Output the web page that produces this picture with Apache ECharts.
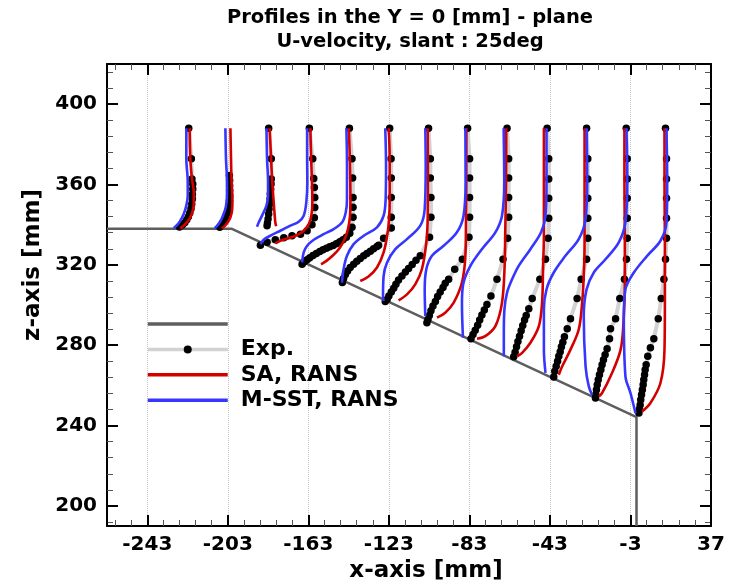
<!DOCTYPE html>
<html><head><meta charset="utf-8">
<script src="https://cdn.jsdelivr.net/npm/echarts@6/dist/echarts.min.js"></script>
<style>html,body{margin:0;padding:0;background:#fff}#chart{width:729px;height:584px}</style>
</head><body><div id="chart"></div>
<script>
const titleLines = ['Profiles in the Y = 0 [mm] - plane', 'U-velocity, slant : 25deg'];
const xAxisName = 'x-axis [mm]';
const zAxisName = 'z-axis [mm]';
const xRange = [-263, 37];
const zRange = [190, 420];
const tickStep = 40;
const xTickLabelShift = -3;   // x tick labels: -243, -203, ..., 37
const legendNames = [' ', 'Exp.', 'SA, RANS', 'M-SST, RANS'];

// body surface (roof, 25deg slant, base)
const wallX = [-263, -201.2, 0, 0];
const wallZ = [338, 338, 244.2, 190];

// Experimental profiles [x, z] in mm
const expProfiles = [
 [[-222.4,388],[-221.1,372.8],[-220.8,362.8],[-220.4,360.3],[-220.4,357.8],[-220.6,355.2],[-220.6,352.8],[-220.9,350.3],[-221.3,348],[-221.9,345.8],[-222.6,344],[-223.4,342.4],[-224.4,341],[-225.6,339.8],[-227.0,338.8]],
 [[-202.2,364.5],[-202.1,362],[-202.1,359.5],[-202.1,357],[-202.1,354.5],[-202.2,352],[-202.4,349.8],[-202.7,347.8],[-203.2,345.8],[-203.9,344],[-204.5,342.5],[-205.4,341.2],[-206.2,339.8],[-207.0,338.7]],
 [[-182.7,388],[-181.4,372.8],[-181.4,362.8],[-181.5,360.3],[-181.7,357.8],[-181.9,355.3],[-182.0,352.8],[-182.2,350.3],[-182.5,347.8],[-182.7,345.3],[-183.0,342.8],[-183.3,340.8],[-183.5,339.5]],
 [[-162.5,388],[-160.8,372.8],[-160.3,363],[-160.0,358.5],[-159.8,353.5],[-159.8,348.5],[-160.0,343.5],[-161.2,340],[-163.6,337],[-166.9,335.3],[-171.1,334.5],[-175.2,333.5],[-179.4,332.5],[-183.5,331.2],[-186.8,329.8]],
 [[-142.6,388],[-141.3,372.8],[-141.0,363.2],[-140.8,353.5],[-140.8,348.7],[-140.8,343.7],[-141.3,338.7],[-142.4,335.8],[-144.1,333.7],[-145.8,332.5],[-147.4,331.5],[-149.1,330.5],[-150.7,329.7],[-152.4,329],[-154.0,328.3],[-155.7,327.5],[-157.3,326.7],[-159.0,325.7],[-160.7,324.7],[-162.3,323.5],[-163.6,322.5],[-165.0,321.5],[-166.1,320.3]],
 [[-122.6,388],[-121.9,372.8],[-121.8,363.2],[-121.8,353.5],[-121.8,343.7],[-121.8,338.3],[-125.6,333.2],[-128.1,329.8],[-128.9,329.2],[-130.6,328],[-132.2,326.8],[-133.9,325.7],[-135.5,324.5],[-137.2,323.2],[-138.9,321.8],[-140.5,320.3],[-142.2,318.7],[-143.5,317],[-144.6,315.2],[-145.5,313.2],[-146.1,311.2]],
 [[-103.3,388],[-102.4,372.8],[-102.4,363.2],[-102.1,353.5],[-102.1,343.7],[-102.8,333.7],[-107.4,324.5],[-109.5,322.3],[-111.4,320.2],[-113.2,318.2],[-114.8,316.5],[-116.5,314.5],[-118.2,312.5],[-119.5,310.3],[-120.6,308.3],[-121.8,306.5],[-123.0,304.5],[-123.9,302.8],[-124.8,301.8]],
 [[-83.9,388],[-82.9,372.8],[-82.9,363.2],[-82.9,353.5],[-82.9,343.7],[-83.2,333.7],[-86.5,322.8],[-90.3,317.8],[-93.3,312.8],[-95.0,310.8],[-96.1,308.7],[-97.5,306.5],[-98.8,304.2],[-99.9,301.8],[-101.1,299.5],[-102.1,297.2],[-102.9,294.8],[-103.6,292.8],[-104.1,291.2]],
 [[-64.3,388],[-63.5,372.8],[-63.5,363.2],[-63.5,353.5],[-63.5,343.7],[-64.0,333.2],[-66.3,322.8],[-69.3,312.8],[-72.3,304.5],[-74.3,300.3],[-75.6,297.5],[-76.8,295],[-77.9,292.5],[-78.9,290],[-80.1,287.5],[-81.2,285.3],[-82.2,283.2]],
 [[-44.4,388],[-43.6,372.8],[-43.6,362.8],[-43.6,353.2],[-43.6,343.2],[-43.9,333.2],[-45.2,322.8],[-48.0,312.8],[-51.8,303.2],[-53.5,298.2],[-54.8,294.8],[-55.6,292.5],[-56.5,289.8],[-57.3,287.2],[-58.1,284.5],[-58.9,281.8],[-59.6,279.2],[-60.3,276.5],[-61.0,274.2]],
 [[-24.8,388],[-24.2,372.8],[-24.2,362.8],[-24.2,353.2],[-24.2,343.2],[-24.2,333.2],[-24.8,322.8],[-27.5,312.8],[-29.5,303.2],[-32.8,293.2],[-34.4,288.2],[-35.8,284.2],[-36.6,281.5],[-37.3,279.2],[-37.9,276.8],[-38.6,274.5],[-39.2,272],[-39.9,269.5],[-40.6,267],[-41.1,264.2]],
 [[-5.1,388],[-4.6,372.8],[-4.6,362.8],[-4.6,353.2],[-4.6,343.2],[-4.6,333.2],[-5.0,322.8],[-6.0,312.8],[-8.3,303.2],[-10.4,293.2],[-12.9,288.2],[-13.4,283.2],[-14.6,278.2],[-15.6,275.3],[-16.4,272.8],[-17.1,270.3],[-17.7,267.8],[-18.4,265.3],[-19.0,262.8],[-19.5,260.3],[-19.9,257.8],[-20.2,255.3],[-20.4,253.7]],
 [[14.4,388],[14.9,372.8],[14.9,362.8],[14.9,353.2],[14.9,343.2],[14.9,333.2],[14.4,322.8],[13.6,312.8],[12.3,303.2],[10.8,293.2],[8.6,283.2],[6.9,278.7],[5.6,274.5],[4.8,270.3],[4.3,267.8],[4.0,265.3],[3.6,262.8],[3.3,260.3],[2.9,257.8],[2.5,255.3],[2.1,252.8],[1.8,250.3],[1.5,248.2],[1.2,246.2]]
];

// SA, RANS profiles
const saProfiles = [
 [[-221.9,388],[-221.6,372.8],[-220.8,362.8],[-219.9,356.2],[-219.9,351.2],[-220.4,347],[-221.6,343.7],[-223.3,341.2],[-225.2,339.2],[-226.6,338.2]],
 [[-201.7,388],[-201.4,372.8],[-201.1,361.2],[-200.7,352.8],[-200.9,347],[-201.7,343.7],[-203.0,341.2],[-204.7,339.2],[-205.9,338.3]],
 [[-182.2,388],[-181.5,372.8],[-180.9,361.2],[-180.2,351.2],[-179.7,344.5],[-179.4,341.2],[-179.0,339.2]],
 [[-162.0,388],[-161.6,372.8],[-161.2,361.2],[-161.0,351.2],[-161.5,344.5],[-162.8,340.3],[-165.3,337],[-168.6,334.8],[-172.7,333.3],[-176.9,332],[-179.4,330.7]],
 [[-142.9,388],[-142.4,372.8],[-142.1,352.8],[-142.3,344.5],[-143.3,337.8],[-145.1,332.5],[-147.6,328.2],[-150.7,324.8],[-154.0,322],[-156.7,320.3]],
 [[-123.1,388],[-122.6,372.8],[-122.6,352.8],[-122.8,344.5],[-123.6,336.2],[-125.6,326.2],[-128.9,318.7],[-133.1,314.2],[-137.2,312]],
 [[-103.7,388],[-103.6,369.5],[-103.7,344.5],[-104.4,331.2],[-106.6,317.8],[-109.9,310.3],[-114.0,305.3],[-118.2,302.3]],
 [[-84.5,388],[-84.5,361.2],[-84.7,341.2],[-85.0,324.5],[-86.7,311.2],[-90.8,301.2],[-95.0,296.2],[-99.1,293.7]],
 [[-64.7,388],[-64.8,361.2],[-65.2,336.2],[-65.5,319.5],[-66.8,301.2],[-70.1,289.5],[-75.1,284.5],[-79.2,283.2]],
 [[-46.0,388],[-46.0,361.2],[-46.0,334.5],[-46.4,319.5],[-46.9,301.2],[-48.5,289.5],[-52.7,281.2],[-56.8,276.2],[-59.3,274.5]],
 [[-25.8,388],[-25.8,361.2],[-25.8,331.2],[-26.2,314.5],[-27.0,301.2],[-28.7,287.8],[-32.8,277.8],[-36.9,269.5],[-38.6,265.3]],
 [[-6.0,388],[-6.0,361.2],[-5.8,331.2],[-5.8,311.2],[-6.3,294.5],[-7.9,277.8],[-12.9,264.5],[-17.1,256.2],[-18.7,254.5]],
 [[13.9,388],[13.9,361.2],[14.1,331.2],[14.1,302.8],[13.9,277.8],[11.9,261.2],[6.9,251.2],[2.8,247]]
];

// M-SST, RANS profiles
const sstProfiles = [
 [[-223.6,388],[-223.6,372.8],[-222.9,361.2],[-222.9,354.5],[-223.6,349.5],[-224.9,345.3],[-226.9,341.5],[-229.0,339],[-229.9,338.3]],
 [[-204.2,388],[-203.9,372.8],[-203.4,361.2],[-203.4,354.5],[-204.0,348.7],[-205.4,344.5],[-207.0,341.2],[-208.7,339],[-209.5,338.3]],
 [[-183.8,388],[-183.5,372.8],[-183.0,361.2],[-183.0,354.5],[-183.8,349.5],[-186.0,344.5],[-187.6,341.2],[-188.5,339]],
 [[-163.6,388],[-163.6,372.8],[-163.5,361.2],[-164.0,351.2],[-165.3,344.5],[-167.8,341.5],[-171.9,339.5],[-176.9,337],[-181.9,334.5],[-185.2,332.5],[-186.8,330.3]],
 [[-144.1,388],[-143.8,369.5],[-143.8,352.8],[-144.4,346.2],[-146.2,341.2],[-150.4,337.8],[-155.4,335.3],[-160.3,332.5],[-163.6,329.5],[-165.3,326.2],[-166.1,321.2]],
 [[-124.8,388],[-124.4,369.5],[-124.6,352.8],[-125.6,344.5],[-128.9,338.7],[-135.5,334.5],[-140.5,330.3],[-143.8,324.5],[-145.5,317.8],[-146.3,311.2]],
 [[-104.9,388],[-104.7,369.5],[-105.2,347.8],[-107.4,339.5],[-114.0,332.8],[-119.8,327.8],[-123.9,321.2],[-125.6,314.5],[-125.9,304.5],[-125.6,302]],
 [[-85.0,388],[-84.9,361.2],[-85.9,344.5],[-89.2,336.2],[-95.8,329.5],[-101.6,324.5],[-104.4,317.8],[-105.2,307.8],[-104.9,294.5]],
 [[-66.0,388],[-65.7,361.2],[-66.8,344.5],[-70.1,336.2],[-76.8,327.8],[-82.5,319.5],[-85.9,311.2],[-86.7,301.2],[-86.2,283.7]],
 [[-44.7,388],[-44.7,361.2],[-45.2,344.5],[-47.4,336.2],[-52.7,327.8],[-58.5,319.5],[-61.8,312.8],[-64.3,306.2],[-65.6,297.8],[-65.9,286.2],[-65.9,274.5]],
 [[-24.8,388],[-24.5,361.2],[-25.3,342.8],[-28.7,332.8],[-35.3,324.5],[-41.1,316.2],[-44.7,307.8],[-46.0,297.8],[-46.0,277.8],[-45.2,266.2]],
 [[-5.0,388],[-4.6,361.2],[-5.5,341.2],[-8.8,331.2],[-15.4,322.8],[-21.2,316.2],[-24.8,307.8],[-26.2,294.5],[-25.3,269.5],[-23.7,259.5],[-22.0,255.3]],
 [[14.9,388],[15.2,361.2],[14.9,341.2],[11.9,332],[5.3,324.5],[-1.3,316.2],[-5.5,307.8],[-6.3,294.5],[-5.5,264.5],[-3.0,256.2],[-0.5,246.2]]
];

const FONT = 'DejaVu Sans';
const WALL_COLOR = '#5e5e5e', EXP_LINE = '#d2d2d2', SA_COLOR = '#d40000', SST_COLOR = '#3636ff';

const chart = echarts.init(document.getElementById('chart'), null, {renderer: 'canvas'});

const series = [];
series.push({
  name: legendNames[0], type: 'line', xAxisIndex: 0, yAxisIndex: 0,
  data: wallX.map((x, i) => [x, wallZ[i]]), symbol: 'none',
  lineStyle: {color: WALL_COLOR, width: 2.5}, itemStyle: {color: WALL_COLOR}, z: 2
});
expProfiles.forEach(p => series.push({
  name: legendNames[1], type: 'line', xAxisIndex: 0, yAxisIndex: 0, data: p,
  symbol: 'circle', symbolSize: 7.5, showSymbol: true, showAllSymbol: true,
  lineStyle: {color: EXP_LINE, width: 4}, itemStyle: {color: '#000'}, z: 3
}));
saProfiles.forEach(p => series.push({
  name: legendNames[2], type: 'line', xAxisIndex: 0, yAxisIndex: 0, data: p,
  symbol: 'none', smooth: 0.35, lineStyle: {color: SA_COLOR, width: 2.6}, itemStyle: {color: SA_COLOR}, z: 4
}));
sstProfiles.forEach(p => series.push({
  name: legendNames[3], type: 'line', xAxisIndex: 0, yAxisIndex: 0, data: p,
  symbol: 'none', smooth: 0.35, lineStyle: {color: SST_COLOR, width: 2.6}, itemStyle: {color: SST_COLOR}, z: 5
}));
series.forEach(s => { s.silent = true; s.emphasis = {disabled: true}; s.clip = true; });

const frameLine = {show: true, onZero: false, lineStyle: {color: '#000', width: 2}};
const majorTick = {show: true, inside: true, length: 11, lineStyle: {color: '#000', width: 2}};
const minorTick = {show: true, splitNumber: 5, length: 6, lineStyle: {color: '#555', width: 1}};
const labelStyle = {fontFamily: FONT, fontWeight: 'bold', fontSize: 20, color: '#000'};
const nameStyle = {fontFamily: FONT, fontWeight: 'bold', fontSize: 23, color: '#000'};

// display axes for x use an offset of 3 so ticks land at -243, -203, ...
const dispMin = xRange[0] - xTickLabelShift, dispMax = xRange[1] - xTickLabelShift;

const option = {
  animation: false,
  backgroundColor: '#fff',
  grid: {left: 107, top: 64, right: 18, bottom: 58, outerBoundsMode: 'none', containLabel: false},
  graphic: [{
    type: 'text', x: 410, y: 6, silent: true,
    style: {text: titleLines.join('\n'), align: 'center', verticalAlign: 'top',
      font: 'bold 19.5px "DejaVu Sans"', lineHeight: 24, fill: '#000'}
  }],
  legend: {
    orient: 'vertical', left: 146, top: 313, padding: 0,
    itemWidth: 80, itemHeight: 10, itemGap: 3.4, selectedMode: false,
    data: [
      {name: legendNames[0], itemStyle: {opacity: 0}},
      {name: legendNames[1]},
      {name: legendNames[2], itemStyle: {opacity: 0}},
      {name: legendNames[3], itemStyle: {opacity: 0}}
    ],
    lineStyle: {width: 3.5},
    textStyle: {fontFamily: FONT, fontWeight: 'bold', fontSize: 22, color: '#000', padding: [0, 0, 0, 8]}
  },
  xAxis: [
    {type: 'value', min: xRange[0], max: xRange[1], show: false, position: 'bottom'},
    {type: 'value', min: dispMin, max: dispMax, minInterval: tickStep, maxInterval: tickStep, position: 'bottom',
     axisLine: frameLine, axisTick: majorTick, minorTick: minorTick,
     axisLabel: Object.assign({margin: 9, showMinLabel: false, showMaxLabel: true,
       formatter: v => String(v + xTickLabelShift)}, labelStyle),
     splitLine: {show: true, lineStyle: {type: 'dotted', color: '#c6c6c6', width: 1}},
     name: xAxisName, nameLocation: 'middle', nameGap: 25,
     nameTextStyle: Object.assign({padding: [0, 0, 0, 34]}, nameStyle)},
    {type: 'value', min: dispMin, max: dispMax, minInterval: tickStep, maxInterval: tickStep, position: 'top',
     axisLine: frameLine, axisTick: majorTick, minorTick: minorTick,
     axisLabel: {show: false}, splitLine: {show: false}}
  ],
  yAxis: [
    {type: 'value', min: zRange[0], max: zRange[1], minInterval: tickStep, maxInterval: tickStep, position: 'left',
     axisLine: frameLine, axisTick: majorTick, minorTick: minorTick,
     axisLabel: Object.assign({margin: 10, showMinLabel: false, showMaxLabel: false}, labelStyle),
     splitLine: {show: false},
     name: zAxisName, nameLocation: 'middle', nameGap: 42,
     nameTextStyle: Object.assign({padding: [0, 0, 0, 60]}, nameStyle)},
    {type: 'value', min: zRange[0], max: zRange[1], minInterval: tickStep, maxInterval: tickStep, position: 'right',
     axisLine: frameLine, axisTick: majorTick, minorTick: minorTick,
     axisLabel: {show: false}, splitLine: {show: false}}
  ],
  series: series
};
chart.setOption(option);
</script></body></html>
